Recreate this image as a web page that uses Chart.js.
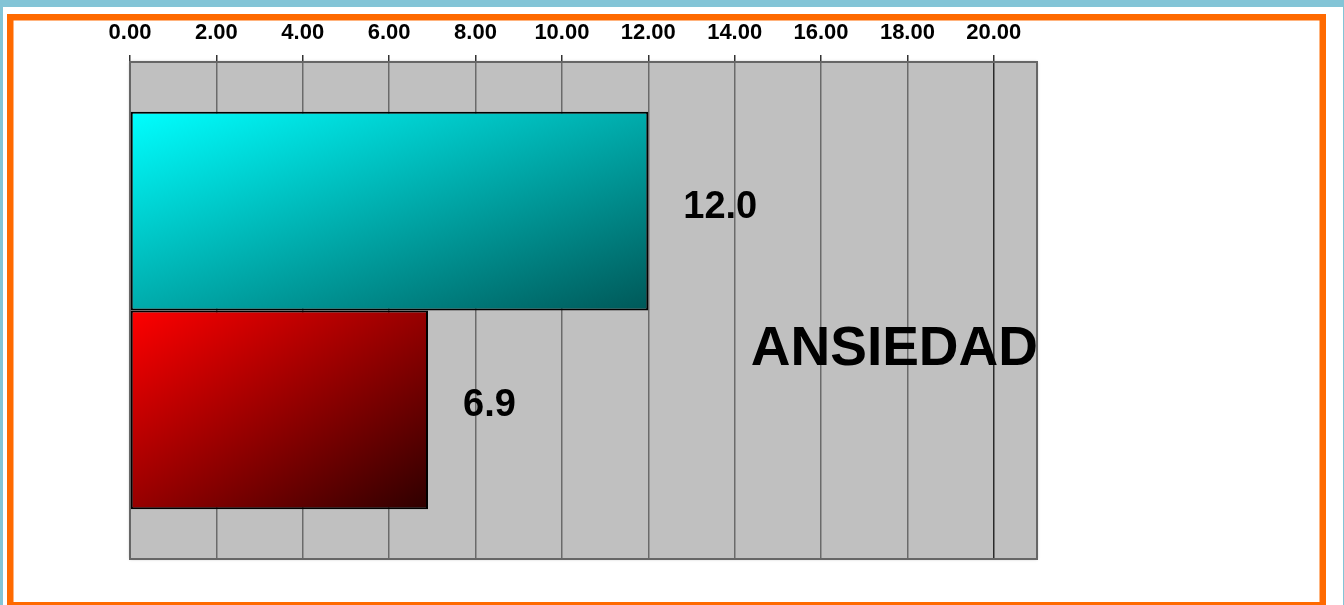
<!DOCTYPE html>
<html>
<head>
<meta charset="utf-8">
<script src="https://cdn.jsdelivr.net/npm/chart.js@4"></script>
<style>
  html, body { margin: 0; padding: 0; background: #83c4d6; }
  #wrap { width: 1344px; height: 605px; }
  canvas { display: block; }
</style>
</head>
<body>
<div id="wrap"><canvas id="c" width="1344" height="605"></canvas></div>
<script>
// ---- data ----
const categories = ['ANSIEDAD'];
const seriesA = [12.0];   // cyan bar
const seriesB = [6.9];    // red bar
const tickValues = [0, 2, 4, 6, 8, 10, 12, 14, 16, 18, 20];
const axisMax = 21;

const FONT = '"Liberation Sans", Arial, sans-serif';

function barGradient(ctx, c1, c2) {
  const chart = ctx.chart;
  const sx = chart.scales.x, sy = chart.scales.y;
  if (!chart.chartArea || !sx || !sy) return c1;
  const v = ctx.raw;
  const x0 = sx.getPixelForValue(0), x1 = sx.getPixelForValue(v);
  const n = categories.length;
  const band = (sy.bottom - sy.top) / n * 0.8;
  const center = sy.getPixelForValue(ctx.dataIndex);
  const top = center - band / 2 + ctx.datasetIndex * band / 2;
  const h = band / 2;
  const w = x1 - x0;
  if (!isFinite(x0) || !isFinite(x1) || !isFinite(top) || w <= 0) return c1;
  // diagonal gradient in shape-normalised space (isolines parallel to anti-diagonal)
  const k = 2 * w * h / (w * w + h * h);
  const g = chart.ctx.createLinearGradient(x0, top, x0 + h * k, top + w * k);
  g.addColorStop(0, c1);
  g.addColorStop(1, c2);
  return g;
}

const framePlugin = {
  id: 'frame',
  beforeDraw(chart) {
    const ctx = chart.ctx;
    ctx.save();
    ctx.fillStyle = '#83c4d6';
    ctx.fillRect(0, 0, 1344, 605);
    ctx.fillStyle = '#ffffff';
    ctx.fillRect(3, 7, 1340, 598);
    ctx.strokeStyle = '#ff6a00';
    ctx.lineWidth = 6.5;
    ctx.strokeRect(10.25, 17.25, 1312.5, 588);
    const a = chart.chartArea;
    ctx.shadowColor = 'rgba(0,0,0,0.35)';
    ctx.shadowBlur = 3;
    ctx.fillStyle = '#c0c0c0';
    ctx.fillRect(a.left, a.top, a.right - a.left, a.bottom - a.top);
    ctx.restore();
  },
  beforeDatasetsDraw(chart) {
    const ctx = chart.ctx, a = chart.chartArea;
    ctx.save();
    ctx.strokeStyle = '#666666';
    ctx.lineWidth = 2;
    ctx.strokeRect(a.left, a.top, a.right - a.left, a.bottom - a.top);
    ctx.restore();
  },
  afterDatasetsDraw(chart) {
    const ctx = chart.ctx, a = chart.chartArea;
    ctx.save();
    ctx.fillStyle = '#000000';
    ctx.textBaseline = 'middle';
    ctx.textAlign = 'left';
    ctx.font = 'bold 38px ' + FONT;
    chart.data.datasets.forEach((ds, i) => {
      const meta = chart.getDatasetMeta(i);
      meta.data.forEach((el, j) => {
        ctx.fillText(Number(ds.data[j]).toFixed(1), el.x + 35, el.y - 4);
      });
    });
    // category label
    ctx.font = 'bold 55px ' + FONT;
    ctx.textAlign = 'right';
    const sy = chart.scales.y;
    categories.forEach((c, k) => {
      ctx.fillText(c, a.right + 1, sy.getPixelForValue(k) + 39);
    });
    ctx.restore();
  }
};

new Chart(document.getElementById('c'), {
  type: 'bar',
  data: {
    labels: categories,
    datasets: [
      {
        label: 'A',
        data: seriesA,
        backgroundColor: (ctx) => barGradient(ctx, '#00ffff', '#005858'),
        borderColor: '#000000',
        borderWidth: 2,
        borderSkipped: false
      },
      {
        label: 'B',
        data: seriesB,
        backgroundColor: (ctx) => barGradient(ctx, '#ff0000', '#2e0000'),
        borderColor: '#000000',
        borderWidth: 2,
        borderSkipped: false
      }
    ]
  },
  options: {
    responsive: false,
    animation: false,
    indexAxis: 'y',
    categoryPercentage: 0.8,
    barPercentage: 1.0,
    layout: { padding: { left: 130, right: 307, top: 0, bottom: 46 } },
    plugins: {
      legend: { display: false },
      tooltip: { enabled: false }
    },
    scales: {
      x: {
        position: 'top',
        min: 0,
        max: axisMax,
        afterBuildTicks(scale) {
          scale.ticks = tickValues.map(v => ({ value: v }));
        },
        afterFit(scale) { scale.height = 62; },
        ticks: {
          callback: (v) => Number(v).toFixed(2),
          color: '#000000',
          font: { family: FONT, size: 22, weight: 'bold' },
          padding: 9,
          maxRotation: 0,
          autoSkip: false
        },
        grid: {
          color: (c) => (c.tick && c.tick.value === 20) ? '#2a2a2a' : '#6a6a6a',
          lineWidth: 1.5,
          drawTicks: true,
          tickLength: 7,
          tickColor: '#333333'
        },
        border: { display: true, color: '#666666', width: 2 }
      },
      y: {
        display: false,
        grid: { display: false }
      }
    }
  },
  plugins: [framePlugin]
});
</script>
</body>
</html>
